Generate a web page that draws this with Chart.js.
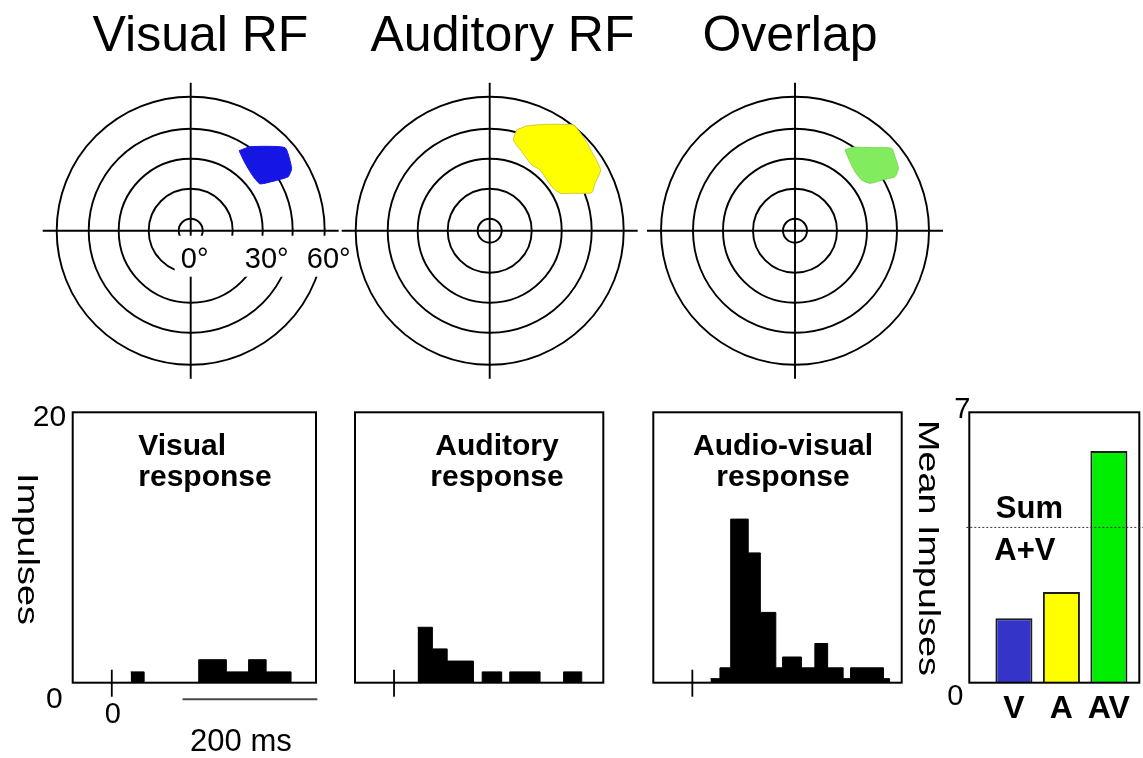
<!DOCTYPE html>
<html>
<head>
<meta charset="utf-8">
<title>Multisensory receptive fields and responses</title>
<script src="https://cdn.jsdelivr.net/npm/chart.js@4.4.1/dist/chart.umd.min.js"></script>
<style>
  html, body { margin: 0; padding: 0; background: #fff; }
  #fig { position: relative; width: 1143px; height: 758px; overflow: hidden; background: #fff; }
  #fig canvas { position: absolute; }
</style>
</head>
<body>
<div id="fig"></div>
<script>
const FONT = "'Liberation Sans', Arial, Helvetica, sans-serif";

// ---------- receptive-field maps (plot units, fixation ring then 15° steps) ----------
const rfTitles = ['Visual RF', 'Auditory RF', 'Overlap'];
const ringRadii = [6, 21, 36, 51, 67];
const ringLabels = ['0°', '30°', '60°'];
const ringLabelRadii = [0, 36, 67];
const axisReach = 74;

const rfVisual = [[24.2, 40], [29.7, 42], [47.2, 41.5], [50.5, 31.2], [48.8, 27], [43.8, 25.4],
                  [34.7, 23.4], [31.3, 27], [27.2, 33.7]];
const rfAuditory = [[13.5, 50.4], [18.5, 52.4], [28.5, 53.2], [41.8, 52.9], [44.3, 50.4], [49.3, 42.9],
                    [51, 39.5], [55.5, 30.4], [52.7, 23.7], [51, 19], [41.8, 18.7], [35.2, 18.7],
                    [31, 22], [25.2, 30.4], [21, 32.9], [16, 39.5], [11.8, 45.4]];
const rfOverlap = [[25, 40.4], [29.2, 41.7], [39.2, 41.5], [48.3, 41.2], [50, 37], [51.7, 31.2],
                   [50, 27], [45, 25.7], [37.5, 23.7], [33.3, 25.4], [30, 29.5], [27.5, 34.5]];

// ---------- peristimulus time histograms (bin edges in ms, impulses per bin) ----------
const psthTitles = [['Visual', 'response'], ['Auditory', 'response'], ['Audio-visual', 'response']];
const visEdges  = [28, 48, 129, 170, 203, 229, 266];
const visCounts = [0.8, 0, 1.7, 0.8, 1.7, 0.8];
const audEdges  = [35, 57, 79, 118, 131, 160, 172, 217, 252, 279];
const audCounts = [4.1, 2.5, 1.6, 0, 0.8, 0, 0.8, 0, 0.8];
const avEdges   = [27, 41, 57, 83, 101, 124, 134, 162, 182, 201, 224, 235, 284, 293];
const avCounts  = [0.3, 1.1, 12.1, 9.6, 5.2, 1.1, 1.9, 1.1, 2.9, 1.1, 0.3, 1.1, 0.3];
const impulseTicks = [0, 20];
const impulseTitle = 'Impulses';
const onsetLabel = '0';
const scaleBarMs = [105, 305];
const scaleBarLabel = '200 ms';

// ---------- mean impulses per condition ----------
const conditions = ['V', 'A', 'AV'];
const meanImpulses = [1.67, 2.35, 6.0];
const meanTicks = [0, 7];
const meanTitle = 'Mean Impulses';
const sumLabel = ['Sum', 'A+V'];
const sumAV = meanImpulses[0] + meanImpulses[1];

// ---------- helpers ----------
const fig = document.getElementById('fig');
function makeCanvas(left, top, w, h) {
  const c = document.createElement('canvas');
  c.width = w; c.height = h;
  c.style.left = left + 'px'; c.style.top = top + 'px';
  c.style.width = w + 'px'; c.style.height = h + 'px';
  fig.appendChild(c);
  return c;
}
const baseOptions = {
  responsive: false,
  animation: false,
  events: [],
  devicePixelRatio: 1,
  plugins: { legend: { display: false }, tooltip: { enabled: false }, title: { display: false } }
};
function text(ctx, s, x, y, font, align) {
  ctx.font = font;
  ctx.textAlign = align || 'left';
  ctx.textBaseline = 'alphabetic';
  ctx.fillText(s, x, y);
}
// vertical label reading top-to-bottom, stretched along its length
function downLabel(ctx, s, cx, cy, px, length) {
  ctx.save();
  ctx.translate(cx, cy);
  ctx.rotate(Math.PI / 2);
  ctx.font = `${px}px ${FONT}`;
  const w = ctx.measureText(s).width;
  ctx.scale(length / w, 1);
  ctx.textAlign = 'center';
  ctx.textBaseline = 'middle';
  ctx.fillStyle = '#000';
  ctx.fillText(s, 0, 0);
  ctx.restore();
}

// ---------- receptive-field panels ----------
const polarCy = 230.7, polarH = 390, unitPx = 2;
const polarPanels = [
  { left: 40,  width: 320, cx: 190.7, titleX: 200.5, pts: rfVisual,   fill: '#1616e4', edge: '#1616e4', labels: true },
  { left: 340, width: 300, cx: 489.7, titleX: 502.5, pts: rfAuditory, fill: '#ffff00', edge: '#cfc63a', labels: false },
  { left: 645, width: 300, cx: 795,   titleX: 790,   pts: rfOverlap,  fill: '#82ec5e', edge: '#70dc4e', labels: false }
];

polarPanels.forEach((p, idx) => {
  const c = makeCanvas(p.left, 0, p.width, polarH);
  const closed = p.pts.concat([p.pts[0]]).map(([x, y]) => ({ x, y }));
  const decor = {
    id: 'rfDecor',
    beforeDatasetsDraw(chart) {
      const { ctx } = chart;
      const xs = chart.scales.x, ys = chart.scales.y;
      const cx = xs.getPixelForValue(0), cy = ys.getPixelForValue(0);
      const k = xs.getPixelForValue(1) - cx;
      ctx.save();
      ctx.strokeStyle = '#000';
      ctx.lineWidth = 1.9;
      ringRadii.forEach(r => {
        ctx.beginPath();
        ctx.arc(cx, cy, r * k, 0, Math.PI * 2);
        ctx.stroke();
      });
      ctx.beginPath();
      ctx.moveTo(xs.getPixelForValue(-axisReach), cy);
      ctx.lineTo(xs.getPixelForValue(axisReach), cy);
      ctx.moveTo(cx, ys.getPixelForValue(axisReach));
      ctx.lineTo(cx, ys.getPixelForValue(-axisReach));
      ctx.stroke();
      if (p.labels) {
        ctx.fillStyle = '#fff';
        ctx.fillRect(cx - 16, cy + 5, 178, 41);
        ctx.fillStyle = '#000';
        ringLabels.forEach((t, i) =>
          text(ctx, t, xs.getPixelForValue(ringLabelRadii[i]) + 4, cy + 37.5, `29px ${FONT}`, 'center'));
      }
      ctx.restore();
    },
    afterDraw(chart) {
      const { ctx } = chart;
      ctx.save();
      ctx.fillStyle = '#000';
      text(ctx, rfTitles[idx], p.titleX - p.left, 51, `50px ${FONT}`, 'center');
      ctx.restore();
    }
  };
  new Chart(c, {
    type: 'scatter',
    data: {
      datasets: [{
        data: closed,
        showLine: true,
        fill: 'shape',
        backgroundColor: p.fill,
        borderColor: p.edge,
        borderWidth: 1,
        pointRadius: 0,
        tension: 0.15
      }]
    },
    options: Object.assign({}, baseOptions, {
      layout: { padding: 0 },
      scales: {
        x: { type: 'linear', display: false, offset: false,
             min: (p.left - p.cx) / unitPx, max: (p.left + p.width - p.cx) / unitPx },
        y: { type: 'linear', display: false, offset: false,
             min: -(polarH - polarCy) / unitPx, max: polarCy / unitPx }
      }
    }),
    plugins: [decor]
  });
});

// ---------- PSTH panels ----------
const rowTop = 380, rowH = 378, boxTop = 412.3, boxBottom = 682.7;
const psthPanels = [
  { left: 0,   width: 340, box: [72.7, 316],    xmax: 303, edges: visEdges, counts: visCounts,
    title: psthTitles[0], titleAlign: 'left',   titleX: 138.3, first: true },
  { left: 340, width: 290, box: [355, 603.3],   xmax: 311, edges: audEdges, counts: audCounts,
    title: psthTitles[1], titleAlign: 'center', titleX: 497 },
  { left: 640, width: 275, box: [653.3, 901.7], xmax: 311, edges: avEdges,  counts: avCounts,
    title: psthTitles[2], titleAlign: 'center', titleX: 783 }
];

psthPanels.forEach(p => {
  const c = makeCanvas(p.left, rowTop, p.width, rowH);
  const steps = p.edges.map((e, i) => ({ x: e, y: i < p.counts.length ? p.counts[i] : 0 }));
  const decor = {
    id: 'psthDecor',
    afterDatasetsDraw(chart) {
      const { ctx, chartArea: a } = chart;
      const xs = chart.scales.x, ys = chart.scales.y;
      ctx.save();
      ctx.strokeStyle = '#000';
      ctx.fillStyle = '#000';
      ctx.lineWidth = 2;
      ctx.strokeRect(a.left, a.top, a.right - a.left, a.bottom - a.top);
      // stimulus onset marker
      const x0 = xs.getPixelForValue(0);
      ctx.lineWidth = 1.8;
      ctx.beginPath();
      ctx.moveTo(x0, a.bottom - 13);
      ctx.lineTo(x0, a.bottom + 14);
      ctx.stroke();
      // panel caption
      const tx = p.titleX - p.left;
      text(ctx, p.title[0], tx, 75, `bold 30px ${FONT}`, p.titleAlign);
      text(ctx, p.title[1], tx, 105.5, `bold 30px ${FONT}`, p.titleAlign);
      if (p.first) {
        text(ctx, String(impulseTicks[1]), a.left - 6.5, ys.getPixelForValue(impulseTicks[1]) + 14, `30px ${FONT}`, 'right');
        text(ctx, String(impulseTicks[0]), a.left - 10, ys.getPixelForValue(impulseTicks[0]) + 25.5, `30px ${FONT}`, 'right');
        text(ctx, onsetLabel, x0 + 1, a.bottom + 40.5, `29px ${FONT}`, 'center');
        const sb0 = xs.getPixelForValue(scaleBarMs[0]), sb1 = xs.getPixelForValue(scaleBarMs[1]);
        ctx.strokeStyle = '#4a4a4a';
        ctx.lineWidth = 2;
        ctx.beginPath();
        ctx.moveTo(sb0, a.bottom + 16.5);
        ctx.lineTo(sb1, a.bottom + 16.5);
        ctx.stroke();
        text(ctx, scaleBarLabel, sb0 + 7.5, a.bottom + 68.5, `31px ${FONT}`, 'left');
        downLabel(ctx, impulseTitle, 26, 549 - rowTop, 29, 152);
      }
      ctx.restore();
    }
  };
  new Chart(c, {
    type: 'line',
    data: {
      datasets: [{
        data: steps,
        stepped: true,
        fill: 'origin',
        backgroundColor: '#000',
        borderColor: '#000',
        borderWidth: 1,
        pointRadius: 0
      }]
    },
    options: Object.assign({}, baseOptions, {
      layout: { padding: {
        left: p.box[0] - p.left, right: p.left + p.width - p.box[1],
        top: boxTop - rowTop, bottom: rowTop + rowH - boxBottom } },
      scales: {
        x: { type: 'linear', display: false, offset: false, min: -58, max: p.xmax },
        y: { type: 'linear', display: false, min: impulseTicks[0], max: impulseTicks[1] }
      }
    }),
    plugins: [decor]
  });
});

// ---------- mean impulses bar panel ----------
(function () {
  const left = 905, width = 238, box = [969.3, 1139.3];
  const c = makeCanvas(left, rowTop, width, rowH);
  const decor = {
    id: 'meanDecor',
    afterDatasetsDraw(chart) {
      const { ctx, chartArea: a } = chart;
      const xs = chart.scales.x, ys = chart.scales.y;
      ctx.save();
      ctx.strokeStyle = '#000';
      ctx.fillStyle = '#000';
      ctx.lineWidth = 2;
      ctx.strokeRect(a.left, a.top, a.right - a.left, a.bottom - a.top);
      // sum of unimodal responses
      const ySum = ys.getPixelForValue(sumAV);
      ctx.lineWidth = 1;
      ctx.strokeStyle = '#333';
      ctx.setLineDash([2, 2]);
      ctx.beginPath();
      ctx.moveTo(a.left - 3, ySum);
      ctx.lineTo(chart.width, ySum);
      ctx.stroke();
      ctx.setLineDash([]);
      text(ctx, sumLabel[0], a.left + 26.5, ySum - 9.4, `bold 31px ${FONT}`, 'left');
      text(ctx, sumLabel[1], a.left + 25, ySum + 32.3, `bold 31px ${FONT}`, 'left');
      // value axis ends
      text(ctx, String(meanTicks[1]), a.left + 1, ys.getPixelForValue(meanTicks[1]) + 6, `29px ${FONT}`, 'right');
      text(ctx, String(meanTicks[0]), a.left - 6, ys.getPixelForValue(meanTicks[0]) + 22.3, `29px ${FONT}`, 'right');
      // condition names
      conditions.forEach((name, i) =>
        text(ctx, name, xs.getPixelForValue(i + 1), a.bottom + 35.5, `bold 32px ${FONT}`, 'center'));
      downLabel(ctx, meanTitle, 927 - left, 548 - rowTop, 29, 256);
      ctx.restore();
    }
  };
  new Chart(c, {
    type: 'bar',
    data: {
      datasets: [{
        data: conditions.map((name, i) => ({ x: i + 1, y: meanImpulses[i] })),
        backgroundColor: ['#3434c8', '#ffff00', '#00ee00'],
        borderColor: '#1c1c1c',
        borderWidth: 2,
        barPercentage: 0.83,
        categoryPercentage: 1
      }]
    },
    options: Object.assign({}, baseOptions, {
      layout: { padding: {
        left: box[0] - left, right: left + width - box[1],
        top: boxTop - rowTop, bottom: rowTop + rowH - boxBottom } },
      scales: {
        x: { type: 'linear', display: false, offset: false, grid: { offset: false },
             min: 0.06, max: 3.64 },
        y: { type: 'linear', display: false, min: meanTicks[0], max: meanTicks[1] }
      }
    }),
    plugins: [decor]
  });
})();
</script>
</body>
</html>
